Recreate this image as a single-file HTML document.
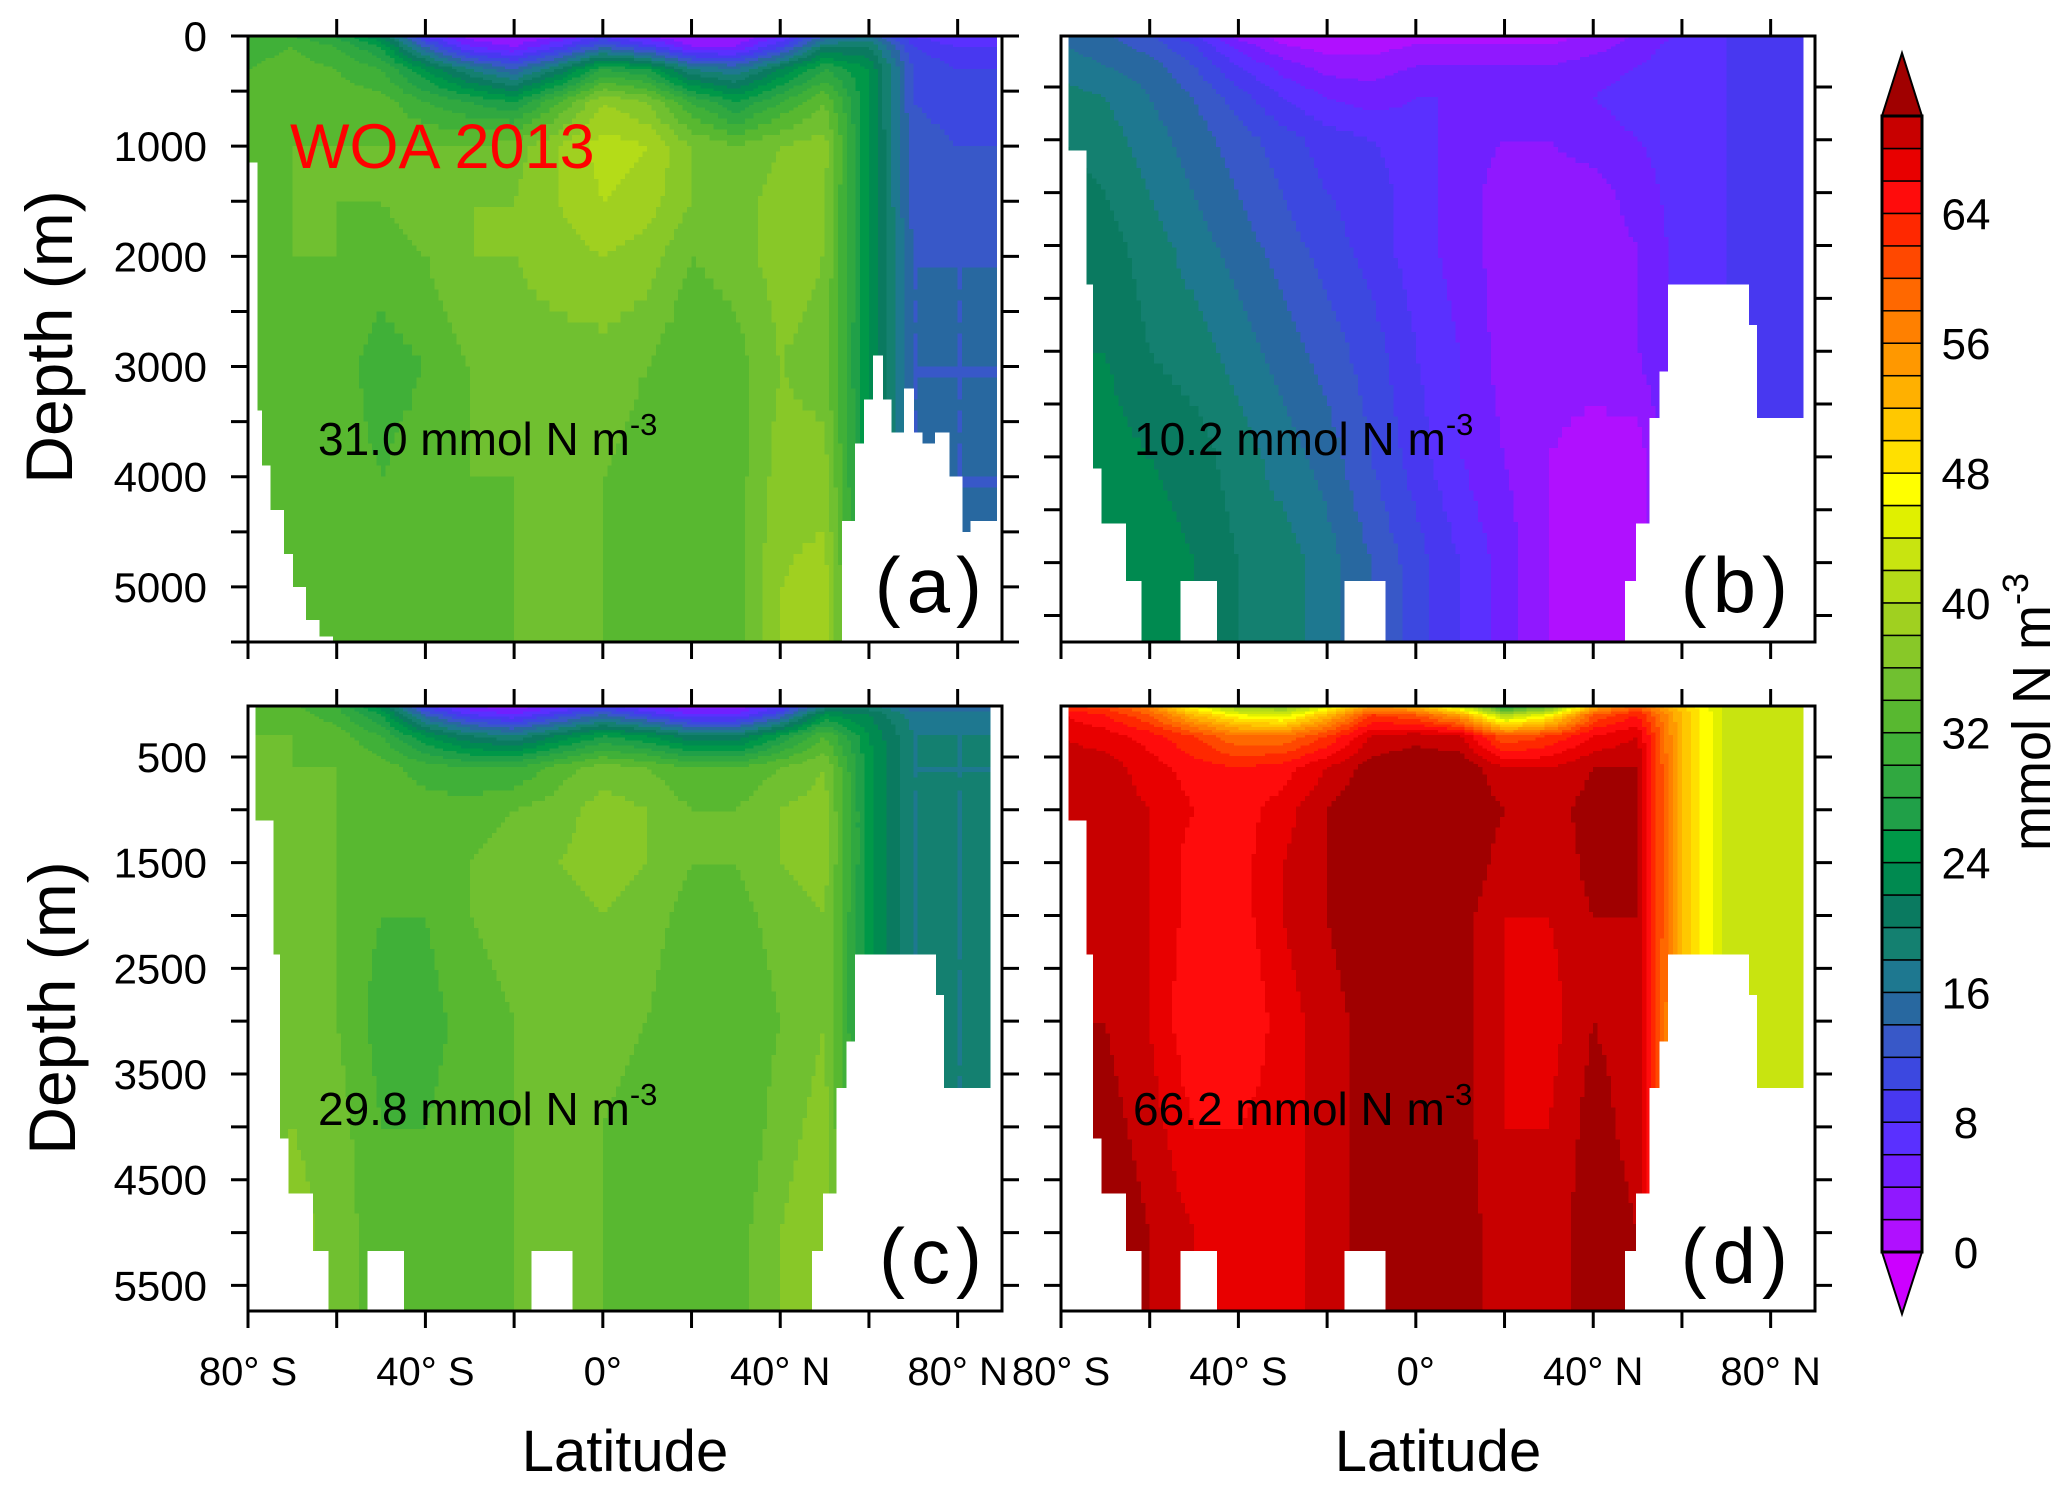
<!DOCTYPE html>
<html><head><meta charset="utf-8">
<style>
html,body{margin:0;padding:0;background:#fff;}
svg{display:block;font-family:"Liberation Sans",sans-serif;}
</style></head>
<body>
<svg id="fig" width="2067" height="1489" viewBox="0 0 2067 1489" xmlns="http://www.w3.org/2000/svg">
<g id="fields" shape-rendering="crispEdges"></g>
<g id="masks" shape-rendering="crispEdges"></g>
<g id="axes"></g>
<g id="cbar"></g>
<g id="labels">
  <text x="290" y="168" font-size="63" fill="#ff0000">WOA 2013</text>
  <text x="318" y="455" font-size="46" fill="#000">31.0 mmol N m<tspan dy="-20" font-size="31">-3</tspan></text>
  <text x="1134" y="455" font-size="46" fill="#000">10.2 mmol N m<tspan dy="-20" font-size="31">-3</tspan></text>
  <text x="318" y="1125" font-size="46" fill="#000">29.8 mmol N m<tspan dy="-20" font-size="31">-3</tspan></text>
  <text x="1133" y="1125" font-size="46" fill="#000">66.2 mmol N m<tspan dy="-20" font-size="31">-3</tspan></text>
  <text x="988" y="612" font-size="78" text-anchor="end" letter-spacing="6">(a)</text>
  <text x="1794" y="612" font-size="78" text-anchor="end" letter-spacing="6">(b)</text>
  <text x="988" y="1283" font-size="78" text-anchor="end" letter-spacing="6">(c)</text>
  <text x="1794" y="1283" font-size="78" text-anchor="end" letter-spacing="6">(d)</text>
  <text transform="translate(72,337) rotate(-90)" font-size="66" text-anchor="middle">Depth (m)</text>
  <text transform="translate(75,1008) rotate(-90)" font-size="66" text-anchor="middle">Depth (m)</text>
  <text x="625" y="1471" font-size="58" text-anchor="middle">Latitude</text>
  <text x="1438" y="1471" font-size="58" text-anchor="middle">Latitude</text>
  <text transform="translate(2050,712) rotate(-90)" font-size="54" text-anchor="middle">mmol N m<tspan dy="-22" font-size="36">-3</tspan></text>
</g>
</svg>
<script>
// ---------- data ----------
const lats = [-80,-70,-60,-50,-40,-30,-20,-10,0,10,20,30,40,50,60,70,80,90];
const depths = [0,100,300,600,1000,1500,2000,3000,4000,5000,5700];
const fieldA = [
 [30,30,28,22,8,3,2,4,8,4,2,2,6,14,16,8,6,6],
 [31,32,30,26,14,6,4,8,14,10,4,4,10,20,20,10,8,8],
 [32,33,32,30,24,18,14,20,28,26,18,16,22,28,24,12,10,10],
 [33,33,33,33,30,28,26,32,38,36,30,26,30,34,24,12,11,11],
 [33,34,34,34,34,34,35,38,41,40,36,34,36,37,24,13,12,12],
 [33,34,34,34,35,36,36,38,40,39,36,35,37,36,24,13,13,13],
 [33,34,34,33,34,36,36,37,38,37,34,35,37,36,24,14,14,14],
 [33,34,33,31,32,34,35,35,35,34,32,33,36,35,24,14,14,14],
 [33,34,33,32,33,34,34,34,34,33,32,33,37,37,24,14,14,14],
 [33,34,33,32,33,33,34,34,34,33,33,33,38,39,26,14,14,14],
 [33,34,33,32,33,33,34,34,34,33,33,33,38,39,26,14,14,14]];
const fieldB = [
 [14,14,12,8,3,1,1,1,1,1,1,1,2,4,6,8,8,8],
 [16,15,13,10,5,2,1,1,2,2,2,2,3,5,7,8,8,8],
 [17,16,15,12,8,5,3,3,4,4,4,4,5,6,7,8,8,8],
 [19,18,16,14,11,8,6,5,6,6,5,5,6,7,8,8,8,8],
 [20,19,17,15,13,11,9,8,7,5,4,4,5,6,7,8,8,8],
 [21,20,18,16,14,12,10,9,7,5,3,3,3,5,7,8,8,8],
 [21,21,19,17,15,13,11,9,7,5,3,3,3,4,7,8,8,8],
 [22,22,20,19,17,15,13,11,8,6,3,3,3,4,7,8,8,8],
 [22,23,22,21,19,17,15,12,9,6,4,2,1,1,7,8,8,8],
 [22,24,23,22,20,19,17,14,11,8,5,2,1,1,7,8,8,8],
 [22,24,23,22,20,19,17,14,11,8,5,2,1,1,7,8,8,8]];
const fieldC = [
 [32,32,30,22,8,3,2,4,8,4,2,2,6,16,18,14,14,14],
 [33,33,31,26,14,8,6,10,14,10,6,6,12,24,22,17,17,17],
 [34,34,33,30,24,20,18,22,26,24,20,20,26,32,24,18,18,18],
 [34,34,34,33,31,30,30,33,35,34,32,32,34,36,25,18,18,18],
 [34,34,34,33,33,33,34,35,37,36,34,34,36,37,25,18,18,18],
 [34,34,34,33,33,34,35,36,37,36,34,34,36,37,25,18,18,18],
 [34,34,34,32,32,34,35,35,36,35,33,33,35,36,25,18,18,18],
 [34,35,34,31,31,33,34,34,35,34,32,32,34,36,25,18,18,18],
 [35,36,35,32,32,33,34,34,34,33,32,32,35,37,25,18,18,18],
 [36,37,35,33,33,33,34,34,34,33,32,33,36,38,25,18,18,18],
 [36,37,35,33,33,33,34,34,34,33,32,33,36,38,25,18,18,18]];
const fieldD = [
 [62,60,56,44,36,34,42,52,50,40,24,30,50,58,50,43,43,43],
 [66,64,60,52,46,44,52,62,60,54,40,46,60,64,52,43,43,43],
 [68,67,65,62,58,58,62,68,69,68,60,62,66,68,52,43,43,43],
 [69,69,67,65,64,65,68,71,72,72,68,68,70,70,52,43,43,43],
 [69,69,68,66,65,67,70,72,72,72,70,69,71,70,52,43,43,43],
 [69,69,68,65,65,68,70,72,72,72,69,68,71,70,52,43,43,43],
 [69,69,68,65,65,68,70,72,72,71,68,68,70,70,52,43,43,43],
 [70,70,68,64,64,67,69,71,72,71,68,67,70,69,52,43,43,43],
 [71,71,69,66,66,67,69,71,72,71,68,68,71,69,52,43,43,43],
 [71,72,70,68,67,67,69,71,72,71,69,68,72,70,52,43,43,43],
 [71,72,70,68,67,67,69,71,72,71,69,68,72,70,52,43,43,43]];
// bathymetry segments: [latStart, latEnd, bottomDepth]
const bathyWOA = [[-80,-78,1150],[-78,-77,3400],[-77,-75,3900],[-75,-72,4300],[-72,-70,4700],[-70,-67,5000],[-67,-64,5300],[-64,-61,5450],[54,57,4400],[57,59,3700],[59,61,3300],[61,63,2900],[63,65,3300],[65,68,3600],[68,70,3200],[70,72,3600],[72,75,3700],[75,78,3600],[78,81,4000],[81,83,4500],[83,89,4400],[89,90,0]];
const bathyModel = [[-80,-78.4,0],[-78.4,-74.4,1100],[-74.4,-72.9,2370],[-72.9,-71,4110],[-71,-65.4,4630],[-65.4,-62,5175],[-53,-45,5175],[-16,-7,5175],[47.3,49.8,5175],[49.8,52.8,4630],[52.8,55,3630],[55,57,3190],[57,75,2370],[75,76.8,2750],[76.8,87.5,3630],[87.5,90,0]];
const cbTicks = [0,8,16,24,32,40,48,56,64];
const topDepthTicks = [0,1000,2000,3000,4000,5000];
const botDepthTicks = [500,1500,2500,3500,4500,5500];
const latTickLabels = [[-80,"80° S"],[-40,"40° S"],[0,"0°"],[40,"40° N"],[80,"80° N"]];

// ---------- colormap (35 bands of 2, 0..70) ----------
const bandColors = ["#b010ff","#9018ff","#7020ff","#5a30ff","#4838f0","#3c48e0","#3858c8","#2868a0","#1e7890","#148070","#0a7a60","#008a50","#009848","#20a048","#30a840","#40b038","#58b830","#70c030","#88c828","#a0d020","#b4dc18","#c8e410","#e0f000","#ffff00","#ffe000","#ffc800","#ffb000","#ff9800","#ff8000","#ff6800","#ff4800","#ff2800","#ff0c0c","#e80000","#c80000"];
const overColor="#a00000", underColor="#cc00ff";
function colorOf(v){ if(v<0) return underColor; const k=Math.floor(v/2); return k>=bandColors.length?overColor:bandColors[k]; }

const NS="http://www.w3.org/2000/svg";
function mk(tag,attrs,parent){const e=document.createElementNS(NS,tag);for(const k in attrs)e.setAttribute(k,attrs[k]);parent.appendChild(e);return e;}

const panels = [
 {id:"a",x0:248,x1:1002,y0:36,y1:642,d0:0,d1:5500,field:fieldA,bathy:bathyWOA,ticks:[0,500,1000,1500,2000,2500,3000,3500,4000,4500,5000,5500],ylab:topDepthTicks,xlab:false},
 {id:"b",x0:1061,x1:1815,y0:36,y1:642,d0:18,d1:5751,field:fieldB,bathy:bathyModel,ticks:[500,1000,1500,2000,2500,3000,3500,4000,4500,5000,5500],ylab:[],xlab:false},
 {id:"c",x0:248,x1:1002,y0:706,y1:1311,d0:18,d1:5742,field:fieldC,bathy:bathyModel,ticks:[500,1000,1500,2000,2500,3000,3500,4000,4500,5000,5500],ylab:botDepthTicks,xlab:true},
 {id:"d",x0:1061,x1:1815,y0:706,y1:1311,d0:18,d1:5742,field:fieldD,bathy:bathyModel,ticks:[500,1000,1500,2000,2500,3000,3500,4000,4500,5000,5500],ylab:[],xlab:true}
];

function interp(field,lat,dep){
  let i=0; while(i<lats.length-2 && lat>lats[i+1]) i++;
  let j=0; while(j<depths.length-2 && dep>depths[j+1]) j++;
  const tx=Math.min(1,Math.max(0,(lat-lats[i])/(lats[i+1]-lats[i])));
  const ty=Math.min(1,Math.max(0,(dep-depths[j])/(depths[j+1]-depths[j])));
  const a=field[j][i],b=field[j][i+1],c=field[j+1][i],d=field[j+1][i+1];
  return (a*(1-tx)+b*tx)*(1-ty)+(c*(1-tx)+d*tx)*ty;
}

const gF=document.getElementById('fields'), gM=document.getElementById('masks'), gA=document.getElementById('axes'), gC=document.getElementById('cbar');

panels.forEach(p=>{
  const xs=lat=>p.x0+(lat+80)*(p.x1-p.x0)/170;
  const ys=d=>p.y0+(d-p.d0)*(p.y1-p.y0)/(p.d1-p.d0);
  const g=mk('g',{},gF);
  
  
  const dEdges=[p.d0];
  let dd=p.d0; while(dd<p.d1){ dd+= dd<700?25:(dd<2000?50:100); dEdges.push(Math.min(dd,p.d1)); }
  const step=1;
  for(let r=0;r<dEdges.length-1;r++){
    const dm=(dEdges[r]+dEdges[r+1])/2;
    const ya=ys(dEdges[r]), yb=ys(dEdges[r+1]);
    let runStart=-80, runCol=null;
    for(let lat=-80;lat<=90;lat+=step){
      const col = lat<90 ? colorOf(interp(p.field,lat+step/2,dm)) : null;
      if(col!==runCol){
        if(runCol!==null){
          const rc=mk('rect',{x:xs(runStart).toFixed(1),y:ya.toFixed(1),width:(xs(lat)-xs(runStart)+0.6).toFixed(1),height:(yb-ya+0.6).toFixed(1),fill:runCol},g);
          
          
        }
        runStart=lat; runCol=col;
      }
    }
  }
  const gm=mk('g',{},gM);
  
  
  p.bathy.forEach(s=>{
    const top=ys(Math.max(s[2],p.d0));
    const rr=mk('rect',{x:(xs(s[0])-0.5).toFixed(1),y:top.toFixed(1),width:(xs(s[1])-xs(s[0])+1).toFixed(1),height:(p.y1-top+1).toFixed(1),fill:"#fff"},gm);
    
    
  });
  const ga=mk('g',{stroke:"#000","stroke-width":3,fill:"none"},gA);
  
  
  mk('rect',{x:p.x0,y:p.y0,width:p.x1-p.x0,height:p.y1-p.y0},ga);
  const TL=17;
  p.ticks.forEach(d=>{
    const y=ys(d);
    mk('line',{x1:p.x0-TL,y1:y,x2:p.x0,y2:y},ga);
    mk('line',{x1:p.x1,y1:y,x2:p.x1+TL,y2:y},ga);
  });
  for(let lat=-80;lat<=80;lat+=20){
    const x=xs(lat);
    mk('line',{x1:x,y1:p.y1,x2:x,y2:p.y1+TL},ga);
    if(lat>-80) mk('line',{x1:x,y1:p.y0-TL,x2:x,y2:p.y0},ga);
  }
  p.ylab.forEach(d=>{
    const t=mk('text',{x:207,y:(ys(d)+15).toFixed(1),"font-size":42,"text-anchor":"end",fill:"#000"},gA);
    
    
    t.textContent=d;
  });
  if(p.xlab){
    latTickLabels.forEach(L=>{
      const t=mk('text',{x:xs(L[0]).toFixed(1),y:1385,"font-size":40,"text-anchor":"middle",fill:"#000"},gA);
      
      
      t.textContent=L[1];
    });
  }
});

(function(){
  const cx0=1882,cx1=1922,cyTop=116,cyBot=1252,vmax=70;
  const cy=v=>cyBot-(v/vmax)*(cyBot-cyTop);
  for(let k=0;k<bandColors.length;k++){
    const r=mk('rect',{x:cx0,y:cy(2*k+2).toFixed(1),width:cx1-cx0,height:(cy(2*k)-cy(2*k+2)).toFixed(1),fill:bandColors[k],stroke:"#000","stroke-width":1.5},gC);
    
    
  }
  const up=mk('polygon',{points:`${cx0},${cyTop} ${cx1},${cyTop} ${(cx0+cx1)/2},53`,fill:overColor,stroke:"#000","stroke-width":2},gC);
  
  
  const dn=mk('polygon',{points:`${cx0},${cyBot} ${cx1},${cyBot} ${(cx0+cx1)/2},1314`,fill:underColor,stroke:"#000","stroke-width":2},gC);
  
  
  mk('rect',{x:cx0,y:cyTop,width:cx1-cx0,height:cyBot-cyTop,fill:"none",stroke:"#000","stroke-width":3},gC);
  cbTicks.forEach(v=>{
    const t=mk('text',{x:1966,y:(cy(v)+16).toFixed(1),"font-size":44,"text-anchor":"middle",fill:"#000"},gC);
    
    
    t.textContent=v;
  });
})();
</script>
</body></html>
